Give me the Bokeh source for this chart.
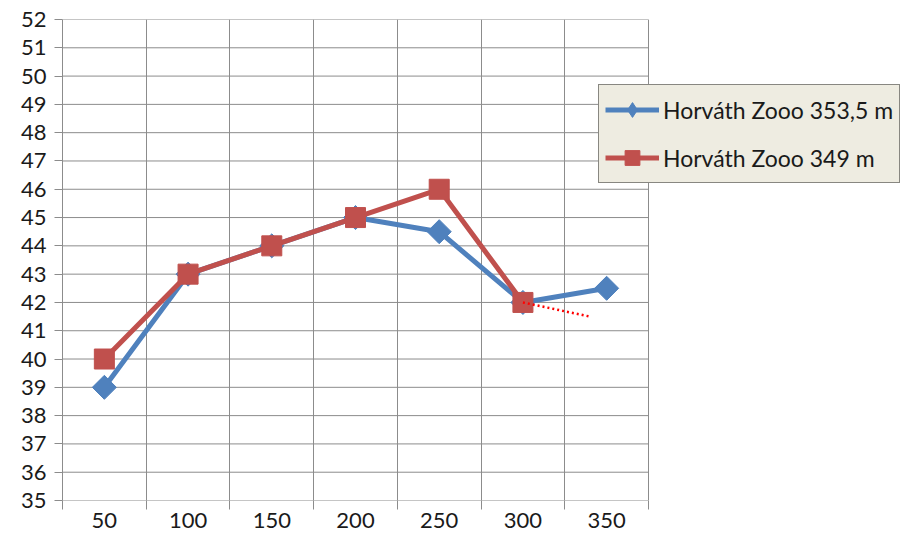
import math
from bokeh.plotting import figure
from bokeh.models import Range1d, FixedTicker, Legend, LegendItem
from bokeh.embed import file_html
from bokeh.resources import INLINE

categories = ["50", "100", "150", "200", "250", "300", "350"]
cat_values = [50, 100, 150, 200, 250, 300, 350]
blue_vals = [39, 43, 44, 45, 44.5, 42, 42.5]
red_vals = [40, 43, 44, 45, 46, 42]
trend_x = [300, 340]
trend_y = [42, 41.5]
y_ticks = list(range(35, 53))
blue_name = "Horváth Zooo 353,5 m"
red_name = "Horváth Zooo 349 m"

def pos(v):
    return (v - 50) / 50 + 0.5

n = len(categories)
blue_x = [pos(v) for v in cat_values[:len(blue_vals)]]
red_x = [pos(v) for v in cat_values[:len(red_vals)]]
tr_x = [pos(v) for v in trend_x]

FONT = "Lato"
TXT = "#1a1a1a"
GRID = "#8c8c8c"
BLUE = "#4F81BD"
RED = "#C0504D"

W, H = 900, 532
LEFT, TOP, RIGHT_DATA, BOTTOM = 62, 19, 648, 500
x_end = n * (W - LEFT) / (RIGHT_DATA - LEFT)

p = figure(width=W, height=H, output_backend="svg", toolbar_location=None,
           x_range=Range1d(0, x_end), y_range=Range1d(35, 52),
           min_border_left=LEFT, min_border_top=TOP, min_border_bottom=H - BOTTOM,
           min_border_right=0)
p.outline_line_color = None
p.background_fill_color = "white"
p.border_fill_color = "white"

# grids
p.xgrid.ticker = FixedTicker(ticks=list(range(0, n + 1)))
p.xgrid.grid_line_color = GRID
p.ygrid.visible = False
p.segment(x0=0, y0=y_ticks, x1=n, y1=y_ticks, line_color=GRID, line_width=1)

# x axis
xa = p.xaxis[0]
xa.ticker = FixedTicker(ticks=[i + 0.5 for i in range(n)], minor_ticks=list(range(0, n + 1)))
xa.major_label_overrides = {i + 0.5: c for i, c in enumerate(categories)}
xa.major_tick_line_color = None
xa.minor_tick_line_color = GRID
xa.minor_tick_out = 9
xa.minor_tick_in = 0
xa.axis_line_color = None
xa.major_label_standoff = 3
xa.major_label_text_font = FONT
xa.major_label_text_font_size = "22px"
xa.major_label_text_color = TXT

# y axis
ya = p.yaxis[0]
ya.ticker = FixedTicker(ticks=y_ticks)
ya.minor_tick_line_color = None
ya.major_tick_line_color = GRID
ya.major_tick_out = 8
ya.major_tick_in = 0
ya.axis_line_color = GRID
ya.major_label_standoff = 8
ya.major_label_text_font = FONT
ya.major_label_text_font_size = "22px"
ya.major_label_text_color = TXT

# series
bl = p.line(blue_x, blue_vals, line_color=BLUE, line_width=5)
# diamond glyph (used for the legend swatch), covered by the rotated squares
b_leg = p.scatter(blue_x, blue_vals, marker="diamond", size=20, fill_color=BLUE, line_color=BLUE)
bs = p.scatter(blue_x, blue_vals, marker="square", angle=math.pi / 4, size=17,
               fill_color=BLUE, line_color=BLUE)
rl = p.line(red_x, red_vals, line_color=RED, line_width=5)
rs = p.scatter(red_x, red_vals, marker="square", size=20, fill_color=RED, line_color=RED)
p.line(tr_x, trend_y, line_color="#FF0000", line_width=2.5, line_dash="2 3")

legend = Legend(items=[LegendItem(label=blue_name, renderers=[bl, b_leg]),
                       LegendItem(label=red_name, renderers=[rl, rs])],
                location=(598 - LEFT, BOTTOM - 183))
legend.background_fill_color = "#EEECE1"
legend.background_fill_alpha = 1
legend.border_line_color = "#222222"
legend.border_line_width = 1
legend.padding = 6
legend.margin = 0
legend.spacing = 11
legend.label_height = 37
legend.glyph_height = 37
legend.glyph_width = 54
legend.label_standoff = 4
legend.label_text_font = FONT
legend.label_text_font_size = "23px"
legend.label_text_color = TXT
p.add_layout(legend, "center")

open("out.html", "w").write(file_html(p, INLINE))
